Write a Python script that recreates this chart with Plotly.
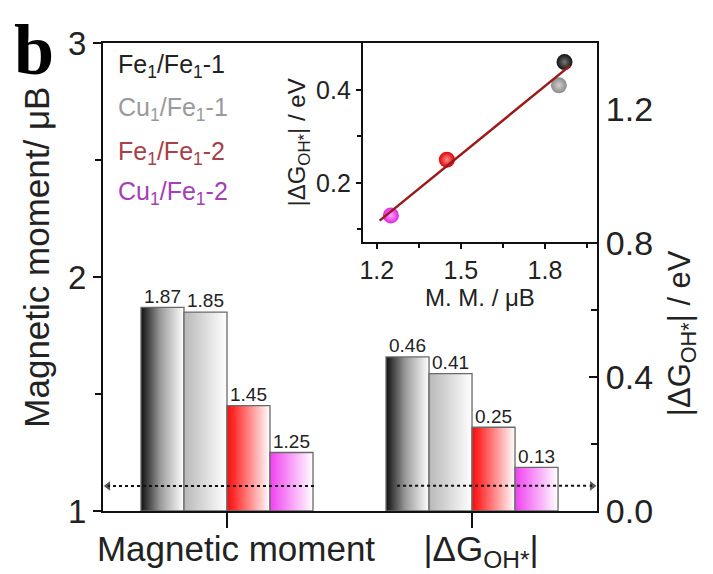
import numpy as np
import plotly.graph_objects as go

# ---------------- data ----------------
series = ["Fe<sub>1</sub>/Fe<sub>1</sub>-1", "Cu<sub>1</sub>/Fe<sub>1</sub>-1",
          "Fe<sub>1</sub>/Fe<sub>1</sub>-2", "Cu<sub>1</sub>/Fe<sub>1</sub>-2"]
categories = ["Magnetic moment", "|ΔG<sub>OH*</sub>|"]
magnetic_moment = [1.87, 1.85, 1.45, 1.25]      # μB (left axis)
dG_OH = [0.46, 0.41, 0.25, 0.13]                 # eV (right axis)
mm_labels = ["1.87", "1.85", "1.45", "1.25"]
dg_labels = ["0.46", "0.41", "0.25", "0.13"]

# ---------------- styles ----------------
FONT = "Liberation Sans, Arial, sans-serif"
bar_scales = [
    [[0, "#101010"], [0.45, "#9a9a9a"], [1, "#ffffff"]],
    [[0, "#b8b8b8"], [1, "#ffffff"]],
    [[0, "#f01010"], [0.15, "#ff2a2a"], [1, "#ffffff"]],
    [[0, "#f040f0"], [1, "#ffffff"]],
]
legend_colors = ["#222222", "#9a9a9a", "#a8404a", "#a440b4"]
marker_colors = ["#101010", "#8a8a8a", "#e00000", "#e020e0"]
marker_centers = ["#777777", "#d0d0d0", "#ff8a8a", "#ffa8ff"]

bar_w = 0.1755
left_range = [1, 3]
right_range = [0, 1.397]
x_range = [-0.506, 1.51]

fig = go.Figure()

groups = [(0, magnetic_moment, mm_labels, "y", left_range[0]),
          (1, dG_OH, dg_labels, "y2", right_range[0])]
for gx, vals, labs, yax, base in groups:
    for i, v in enumerate(vals):
        x0 = gx + (i - 1.5) * bar_w - bar_w / 2
        x1 = x0 + bar_w
        fig.add_trace(go.Scatter(
            x=[x0, x0, x1, x1, x0], y=[base, v, v, base, base],
            mode="lines", fill="toself", yaxis=yax,
            line=dict(color="#6a6a6a", width=1.3),
            fillgradient=dict(type="horizontal", colorscale=bar_scales[i]),
            hoverinfo="skip", showlegend=False))
        fig.add_trace(go.Scatter(
            x=[(x0 + x1) / 2], y=[v], mode="text", text=[labs[i]],
            textposition="top center", yaxis=yax,
            textfont=dict(family=FONT, size=19, color="#222"),
            hoverinfo="skip", showlegend=False))

# dotted arrows
fig.add_trace(go.Scatter(x=[0.355, -0.485], y=[1.107, 1.107], yaxis="y",
                         mode="lines+markers",
                         line=dict(color="#111", width=2, dash="dot"),
                         marker=dict(symbol="triangle-left", size=[0, 10], color="#111"),
                         hoverinfo="skip", showlegend=False))
fig.add_trace(go.Scatter(x=[0.694, 1.49], y=[0.075, 0.075], yaxis="y2",
                         mode="lines+markers",
                         line=dict(color="#111", width=2, dash="dot"),
                         marker=dict(symbol="triangle-right", size=[0, 10], color="#111"),
                         hoverinfo="skip", showlegend=False))

# inset: points + linear fit
for i in [1, 0, 2, 3]:
    fig.add_trace(go.Scatter(
        x=[magnetic_moment[i]], y=[dG_OH[i]], xaxis="x3", yaxis="y3", mode="markers",
        marker=dict(size=16, color=marker_colors[i],
                    gradient=dict(type="radial", color=marker_centers[i]),
                    line=dict(width=0)),
        hoverinfo="skip", showlegend=False))
slope, intercept = np.polyfit(magnetic_moment, dG_OH, 1)
fit_x = np.array([1.21, 1.89])
fig.add_trace(go.Scatter(x=fit_x, y=slope * fit_x + intercept, xaxis="x3", yaxis="y3",
                         mode="lines", line=dict(color="#9a1a1a", width=2.5),
                         hoverinfo="skip", showlegend=False))

# legend-like coloured labels
leg_y = [2.90, 2.72, 2.53, 2.36]
for i, name in enumerate(series):
    fig.add_annotation(x=-0.455, y=leg_y[i], xref="x", yref="y", text=name,
                       showarrow=False, xanchor="left", yanchor="middle",
                       font=dict(family=FONT, size=25, color=legend_colors[i]))

fig.add_annotation(x=-0.14, y=0.985, xref="paper", yref="paper", text="<b>b</b>",
                   showarrow=False, xanchor="center", yanchor="middle",
                   font=dict(family="Liberation Serif, Times New Roman, serif", size=72, color="black"))

# axis titles of the main plot (placed as in the reference)
fig.add_annotation(x=-0.134, y=0.543, xref="paper", yref="paper", text="Magnetic moment/ μB",
                   textangle=-90, showarrow=False, xanchor="center", yanchor="middle",
                   font=dict(family=FONT, size=35, color="#222"))
fig.add_annotation(x=1.172, y=0.380, xref="paper", yref="paper", text="|ΔG<sub>OH*</sub>| / eV",
                   textangle=-90, showarrow=False, xanchor="center", yanchor="middle",
                   font=dict(family=FONT, size=31, color="#222"))

axis_common = dict(showline=True, linecolor="#111", linewidth=2, showgrid=False,
                   zeroline=False, tickcolor="#111", tickwidth=2, automargin=False)

# page body adds an 8px offset, so the figure is 8px smaller than the window
fig.update_layout(
    width=705, height=566,
    margin=dict(l=95, r=116, t=35, b=63),
    paper_bgcolor="white", plot_bgcolor="white",
    font=dict(family=FONT, color="#222"),
    xaxis=dict(**axis_common, range=x_range, tickvals=[0, 1], ticktext=categories,
               ticks="outside", ticklen=15, mirror=True, ticklabelshift=9,
               ticklabelstandoff=-9, tickfont=dict(size=35)),
    yaxis=dict(**axis_common, range=left_range, tickvals=[1, 2, 3], ticks="outside",
               ticklen=8, minor=dict(dtick=0.5, ticks="outside", ticklen=6,
                                     tickcolor="#111", tickwidth=2),
               tickfont=dict(size=33)),
    yaxis2=dict(**axis_common, range=right_range, overlaying="y", side="right",
                tickvals=[0, 0.4, 0.8, 1.2], ticktext=["0.0", "0.4", "0.8", "1.2"],
                ticks="inside", ticklen=8,
                minor=dict(tickvals=[0.2, 0.6, 1.0], ticks="inside", ticklen=6,
                           tickcolor="#111", tickwidth=2),
                tickfont=dict(size=34)),
    xaxis3=dict(**axis_common, domain=[0.526, 1.0], anchor="y3", range=[1.15, 1.986],
                tickvals=[1.2, 1.5, 1.8], ticks="outside", ticklen=5, mirror=True,
                minor=dict(tickvals=[1.35, 1.65, 1.95], ticks="outside", ticklen=4,
                           tickcolor="#111", tickwidth=2),
                tickfont=dict(size=25),
                title=dict(text="M. M. / μB", font=dict(size=24), standoff=2)),
    yaxis3=dict(**axis_common, domain=[0.575, 1.0], anchor="x3", range=[0.073, 0.501],
                tickvals=[0.2, 0.4], ticks="outside", ticklen=5, mirror=True,
                minor=dict(tickvals=[0.1, 0.3], ticks="outside", ticklen=4,
                           tickcolor="#111", tickwidth=2),
                tickfont=dict(size=25),
                title=dict(text="|ΔG<sub>OH*</sub>| / eV", font=dict(size=24), standoff=4)),
)

fig.write_html("out.html")
